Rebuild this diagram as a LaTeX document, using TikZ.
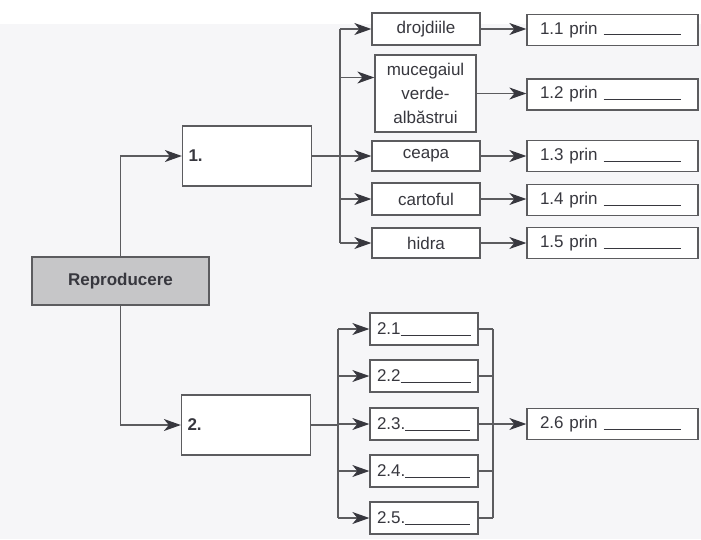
\documentclass[tikz,border=0pt]{standalone}
\usepackage{fontspec}
\setmainfont{Liberation Sans}
\usetikzlibrary{arrows.meta, positioning, calc}
\definecolor{mygray}{RGB}{92,92,95}
\definecolor{mytext}{RGB}{55,55,62}
\definecolor{mypaper}{RGB}{246,246,248}
\definecolor{myshade}{RGB}{198,198,200}
\newcommand{\blankline}[1]{\rule[-1pt]{#1pt}{0.9pt}}
\tikzset{
  box/.style={rectangle, draw=mygray, fill=white, line width=1.3pt,
    text=mytext, font=\fontsize{17}{24}\selectfont, inner sep=0pt, align=center},
  numbox/.style={box, minimum height=60pt, text width=117pt, inner xsep=6pt,
    align=left, font=\fontsize{17}{24}\selectfont\bfseries},
  pribox/.style={box, minimum height=31pt, text width=145pt, inner xsep=13pt, align=left},
  subbox/.style={box, minimum height=32pt, text width=94pt, inner xsep=7pt, align=left},
  arrow/.style={-{Stealth[length=17pt,width=12pt,inset=5pt,color=mytext]}, line width=1.2pt, draw=mygray},
  line/.style={line width=1.2pt, draw=mygray}
}

\begin{document}
\begin{tikzpicture}[x=1pt, y=-1pt]
  % paper
  \fill[white] (0,0) rectangle (701,539);
  \fill[mypaper] (0,24) rectangle (701,539);
  \useasboundingbox (0,0) rectangle (701,539);

  % main box
  \node[box, fill=myshade, minimum width=177pt, minimum height=48pt,
    font=\fontsize{17}{24}\selectfont\bfseries] (repro) at (120.5,281) {Reproducere};
  \node[numbox] (one) at (247,156) {1.};
  \node[numbox] (two) at (246,425) {2.};
  \draw[arrow] (repro.north) |- (one.west);
  \draw[arrow] (repro.south) |- (two.west);

  % branch 1: organisms
  \node[box, minimum width=108pt, minimum height=32pt] (drojd) at (426,29) {drojdiile};
  \node[box, minimum width=101pt, minimum height=77pt] (muceg) at (425.5,93.5) {mucegaiul\\verde-\\albăstrui};
  \node[box, minimum width=108pt, minimum height=30pt] (ceapa) at (426,156) {ceapa};
  \node[box, minimum width=108pt, minimum height=32pt] (cart) at (426,199) {cartoful};
  \node[box, minimum width=108pt, minimum height=30pt] (hidra) at (426,243) {hidra};

  % branch 1: answers
  \node[pribox] (p1) at (612.5,30) {1.1 prin\hspace{6pt}\blankline{77}};
  \node[pribox] (p2) at (612.5,94.5) {1.2 prin\hspace{6pt}\blankline{77}};
  \node[pribox] (p3) at (612.5,156) {1.3 prin\hspace{6pt}\blankline{77}};
  \node[pribox] (p4) at (612.5,200) {1.4 prin\hspace{6pt}\blankline{77}};
  \node[pribox] (p5) at (612.5,243) {1.5 prin\hspace{6pt}\blankline{77}};

  \coordinate (bus1) at (340,156);
  \coordinate (mucin) at ([yshift=16pt]muceg.west);
  \draw[line] (one.east) -- (bus1);
  \draw[line] (bus1 |- drojd) -- (bus1 |- hidra);
  \draw[arrow] (bus1 |- drojd) -- (drojd.west);
  \draw[arrow] (bus1 |- mucin) -- (mucin);
  \foreach \n in {ceapa, cart, hidra}
    \draw[arrow] (bus1 |- \n) -- (\n.west);
  \draw[arrow] (drojd.east) -- (drojd.east -| p1.west);
  \draw[arrow] (muceg.east) -- (muceg.east -| p2.west);
  \draw[arrow] (ceapa.east) -- (p3.west);
  \draw[arrow] (cart.east) -- (cart.east -| p4.west);
  \draw[arrow] (hidra.east) -- (p5.west);

  % branch 2
  \node[subbox] (b21) at (424,329) {2.1\blankline{70}};
  \node[subbox] (b22) at (424,376) {2.2\blankline{70}};
  \node[subbox] (b23) at (424,424) {2.3.\blankline{65}};
  \node[subbox] (b24) at (424,471) {2.4.\blankline{65}};
  \node[subbox] (b25) at (424,518) {2.5.\blankline{65}};
  \node[pribox] (p6) at (612.5,424) {2.6 prin\hspace{6pt}\blankline{77}};

  \coordinate (bus2) at (338,425);
  \coordinate (bus3) at (493,424);
  \draw[line] (two.east) -- (bus2);
  \draw[line] (bus2 |- b21) -- (bus2 |- b25);
  \draw[line] (bus3 |- b21) -- (bus3 |- b25);
  \foreach \n in {b21, b22, b23, b24, b25} {
    \draw[arrow] (bus2 |- \n) -- (\n.west);
    \draw[line] (\n.east) -- (bus3 |- \n);
  }
  \draw[arrow] (b23.east) -- (p6.west);
\end{tikzpicture}
\end{document}
